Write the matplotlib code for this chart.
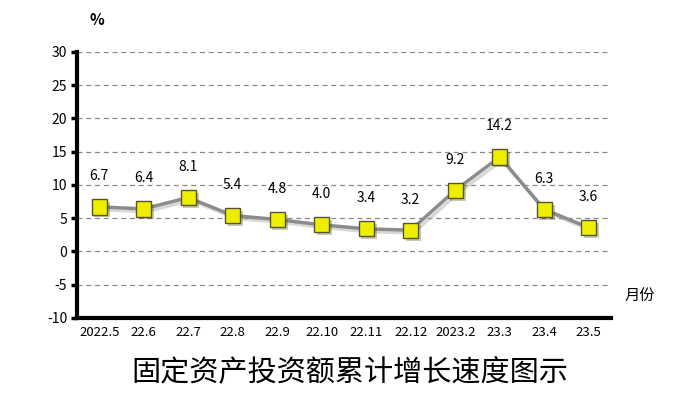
import numpy as np
import matplotlib.pyplot as plt
import matplotlib.patheffects as pe

plt.rcParams['font.family'] = ['Noto Sans CJK SC', 'DejaVu Sans']
plt.rcParams['axes.unicode_minus'] = False

months = ['2022.5', '22.6', '22.7', '22.8', '22.9', '22.10', '22.11', '22.12',
          '2023.2', '23.3', '23.4', '23.5']
growth = [6.7, 6.4, 8.1, 5.4, 4.8, 4.0, 3.4, 3.2, 9.2, 14.2, 6.3, 3.6]
yticks = [-10, -5, 0, 5, 10, 15, 20, 25, 30]

fig = plt.figure(figsize=(6.77, 3.96), dpi=100)
ax = fig.add_axes([0.1137, 0.197, 0.7888, 0.672])

x = np.arange(len(months))

# soft shadow under line and markers
shadow = [pe.SimpleLineShadow(offset=(2, -2), shadow_color='#aaaaaa', alpha=0.45),
          pe.Normal()]
ax.plot(x, growth, color='#8c8c8c', lw=2.5, zorder=3, path_effects=shadow)
ax.plot(x, growth, ls='none', marker='s', ms=11, mfc='#eeee00', mec='#555533',
        mew=1, zorder=4,
        path_effects=[pe.SimplePatchShadow(offset=(2, -2), alpha=0.3), pe.Normal()])

for xi, v in zip(x, growth):
    ax.annotate(f'{v:.1f}', (xi, v), xytext=(0, 17), textcoords='offset points',
                ha='center', va='bottom', fontsize=10, color='black')

ax.set_xlim(-0.5, len(months) - 0.5)
ax.set_ylim(-10, 30)
ax.set_yticks(yticks)
ax.set_xticks(x)
ax.set_xticklabels(months, fontsize=9.5)
ax.tick_params(axis='y', labelsize=10, length=4, width=2.5, direction='out', pad=3)
ax.tick_params(axis='x', length=0, pad=6)

ax.grid(axis='y', ls=(0, (4, 3)), color='#888888', lw=0.9)
ax.set_axisbelow(True)
for s in ['top', 'right']:
    ax.spines[s].set_visible(False)
ax.spines['left'].set_linewidth(3)
ax.spines['bottom'].set_linewidth(3)

fig.text(97 / 677, 1 - 20 / 396, '%', fontsize=11, fontweight='bold',
         ha='center', va='center')
fig.text(640 / 677, 1 - 296 / 396, '月份', fontsize=11, ha='center', va='center')
fig.text(350 / 677, 1 - 372 / 396, '固定资产投资额累计增长速度图示', fontsize=21,
         ha='center', va='center')

fig.savefig('out.png', dpi=100)
